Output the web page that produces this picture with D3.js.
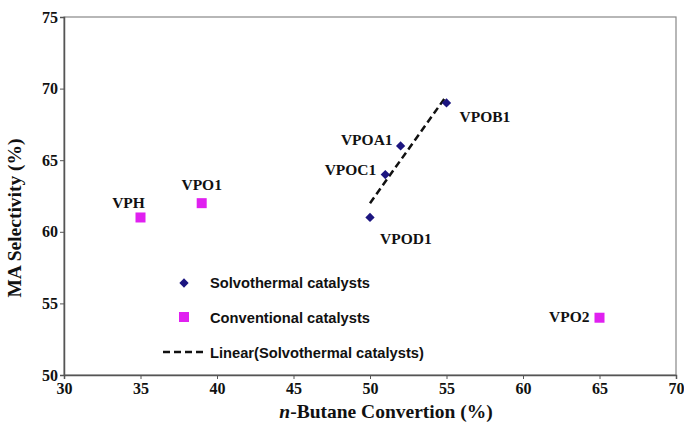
<!DOCTYPE html>
<html>
<head>
<meta charset="utf-8">
<script src="https://cdn.jsdelivr.net/npm/d3@7"></script>
<style>
  body { margin: 0; background: #fff; }
</style>
</head>
<body>
<div id="chart"></div>
<script>
// solvothermal catalysts
const solvoNames = ["VPOB1", "VPOA1", "VPOC1", "VPOD1"];
const solvoX = [55, 52, 51, 50];
const solvoY = [69, 66, 64, 61];
// conventional catalysts
const convNames = ["VPH", "VPO1", "VPO2"];
const convX = [35, 39, 65];
const convY = [61, 62, 54];
const xTicks = [30, 35, 40, 45, 50, 55, 60, 65, 70];
const yTicks = [50, 55, 60, 65, 70, 75];

let margin = {top: 17, right: 8, bottom: 48, left: 64},
  width = 684 - margin.left - margin.right,
  height = 423 - margin.top - margin.bottom;

let svg = d3.select("#chart")
  .append("svg")
  .attr("width", 684)
  .attr("height", 423)
  .append("g")
  .attr("transform", "translate(" + margin.left + "," + margin.top + ")");

let x = d3.scaleLinear().domain([30, 70]).range([0, width]);
let y = d3.scaleLinear().domain([50, 75]).range([height, 0]);

// frame
svg.append("rect")
  .attr("width", width)
  .attr("height", height)
  .attr("fill", "none")
  .attr("stroke", "#888")
  .attr("stroke-width", 1.2);

const tickFont = "'Liberation Serif', 'Times New Roman', serif";

let xAxis = svg.append("g")
  .attr("transform", `translate(0, ${height})`)
  .call(d3.axisBottom(x).tickValues(xTicks).tickSize(4).tickPadding(4));
let yAxis = svg.append("g")
  .call(d3.axisLeft(y).tickValues(yTicks).tickSize(4).tickPadding(2));
[xAxis, yAxis].forEach(function(a) {
  a.select(".domain").attr("stroke", "#555").attr("stroke-width", 1.5);
  a.selectAll(".tick line").attr("stroke", "#555");
  a.selectAll("text")
    .style("font-family", tickFont)
    .style("font-weight", "bold")
    .style("font-size", "16px")
    .attr("fill", "#111");
});

// axis titles
let xTitle = svg.append("text")
  .attr("x", width / 2 + 16)
  .attr("y", height + 43)
  .attr("text-anchor", "middle")
  .style("font-family", tickFont)
  .style("font-weight", "bold")
  .style("font-size", "19.5px")
  .attr("fill", "#111");
xTitle.append("tspan").style("font-style", "italic").text("n");
xTitle.append("tspan").text("-Butane Convertion (%)");

svg.append("text")
  .attr("transform", `translate(${-43}, ${height / 2 + 22}) rotate(-90)`)
  .attr("text-anchor", "middle")
  .style("font-family", tickFont)
  .style("font-weight", "bold")
  .style("font-size", "19.5px")
  .attr("fill", "#111")
  .text("MA Selectivity (%)");

// linear trend of solvothermal points
const mx = d3.mean(solvoX), my = d3.mean(solvoY);
const slope = d3.sum(solvoX, (v, i) => (v - mx) * (solvoY[i] - my)) /
  d3.sum(solvoX, v => (v - mx) * (v - mx));
const x0 = d3.min(solvoX), x1 = d3.max(solvoX);
svg.append("line")
  .attr("x1", x(x0)).attr("y1", y(my + slope * (x0 - mx)))
  .attr("x2", x(x1)).attr("y2", y(my + slope * (x1 - mx)))
  .attr("stroke", "#111")
  .attr("stroke-width", 2.5)
  .attr("stroke-dasharray", "7,4");

const diamond = d3.symbol().type(d3.symbolDiamond2).size(55);
const navy = "#1c1580";
const magenta = "#e020f0";

svg.selectAll("path.solvo")
  .data(solvoX)
  .enter()
  .append("path")
  .attr("class", "solvo")
  .attr("d", diamond)
  .attr("transform", (d, i) => `translate(${x(d)}, ${y(solvoY[i])})`)
  .attr("fill", navy);

svg.selectAll("rect.conv")
  .data(convX)
  .enter()
  .append("rect")
  .attr("class", "conv")
  .attr("x", d => x(d) - 5)
  .attr("y", (d, i) => y(convY[i]) - 5)
  .attr("width", 10)
  .attr("height", 10)
  .attr("fill", magenta);

// point labels: offsets from point
const solvoOff = [[13, 19, "start"], [-8, -1, "end"], [-9, 0, "end"], [10, 27, "start"]];
const convOff = [[-12, -9, "middle"], [0, -13, "middle"], [-10, 4, "end"]];
function labels(names, xs, ys, off) {
  names.forEach(function(n, i) {
    svg.append("text")
      .attr("x", x(xs[i]) + off[i][0])
      .attr("y", y(ys[i]) + off[i][1])
      .attr("text-anchor", off[i][2])
      .style("font-family", tickFont)
      .style("font-weight", "bold")
      .style("font-size", "15.5px")
      .attr("fill", "#111")
      .text(n);
  });
}
labels(solvoNames, solvoX, solvoY, solvoOff);
labels(convNames, convX, convY, convOff);

// legend
const legFont = "'Liberation Sans', Arial, sans-serif";
let legend = svg.append("g").attr("transform", "translate(120, 266)");
legend.append("path").attr("d", diamond).attr("fill", navy);
legend.append("rect").attr("x", -5).attr("y", 29).attr("width", 10).attr("height", 10).attr("fill", magenta);
legend.append("line")
  .attr("x1", -21).attr("x2", 19).attr("y1", 69).attr("y2", 69)
  .attr("stroke", "#111").attr("stroke-width", 2.5).attr("stroke-dasharray", "7,4");
["Solvothermal catalysts", "Conventional catalysts", "Linear(Solvothermal catalysts)"].forEach(function(t, i) {
  legend.append("text")
    .attr("x", 26)
    .attr("y", 5 + i * 35)
    .style("font-family", legFont)
    .style("font-weight", "bold")
    .style("font-size", "14.7px")
    .attr("fill", "#111")
    .text(t);
});
</script>
</body>
</html>
